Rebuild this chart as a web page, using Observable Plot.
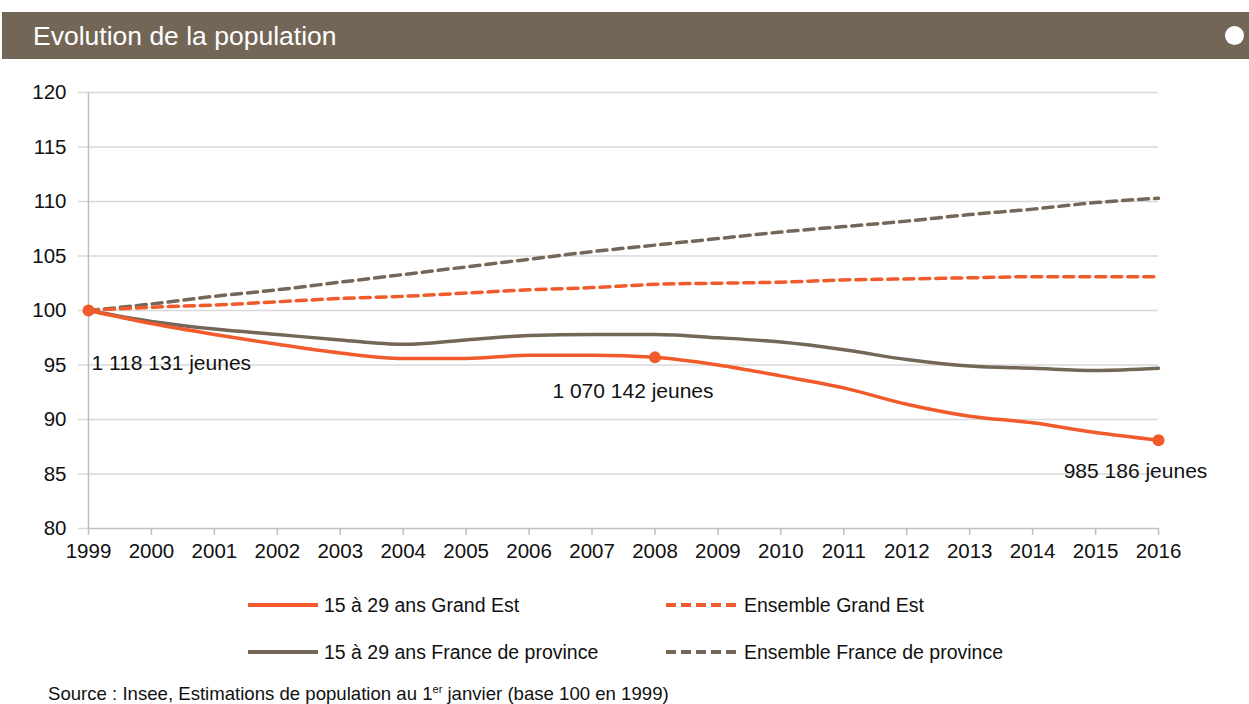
<!DOCTYPE html>
<html>
<head>
<meta charset="utf-8">
<script src="https://cdn.jsdelivr.net/npm/d3@7"></script>
<script src="https://cdn.jsdelivr.net/npm/@observablehq/plot@0.6"></script>
<style>
  html, body { margin: 0; padding: 0; background: #fff; }
  body { width: 1249px; height: 704px; position: relative; overflow: hidden; font-family: "Liberation Sans", Arial, sans-serif; }
  #header { position: absolute; left: 2px; top: 12px; width: 1247px; height: 47px; background: #736657; }
  #header .title { position: absolute; left: 31px; top: 8px; color: #fff; font-size: 26.5px; line-height: 32px; }
  #header .dot { position: absolute; left: 1223px; top: 14px; width: 19px; height: 19px; border-radius: 50%; background: #fff; }
  #chart { position: absolute; left: 0; top: 60px; }
  .leg { position: absolute; display: flex; align-items: center; font-size: 19.5px; color: #111; white-space: nowrap; }
  .leg svg { margin-right: 6px; }
  #source { position: absolute; left: 48px; top: 683px; font-size: 18.6px; line-height: 22px; color: #111; }
  #source sup { font-size: 11px; line-height: 0; }
</style>
</head>
<body>
<div id="header"><div class="title">Evolution de la population</div><div class="dot"></div></div>
<div id="chart"></div>
<div id="legend"></div>
<div id="source">Source : Insee, Estimations de population au 1<sup>er</sup> janvier (base 100 en 1999)</div>
<script>
const years = [1999,2000,2001,2002,2003,2004,2005,2006,2007,2008,2009,2010,2011,2012,2013,2014,2015,2016];
const jeunesGrandEst    = [100,98.8,97.8,96.9,96.1,95.6,95.6,95.9,95.9,95.7,95.0,94.0,92.9,91.4,90.3,89.7,88.8,88.1];
const jeunesProvince    = [100,99.0,98.3,97.8,97.3,96.9,97.3,97.7,97.8,97.8,97.5,97.1,96.4,95.5,94.9,94.7,94.5,94.7];
const ensembleGrandEst  = [100,100.3,100.5,100.8,101.1,101.3,101.6,101.9,102.1,102.4,102.5,102.6,102.8,102.9,103.0,103.1,103.1,103.1];
const ensembleProvince  = [100,100.6,101.3,101.9,102.6,103.3,104.0,104.7,105.4,106.0,106.6,107.2,107.7,108.2,108.8,109.3,109.9,110.3];
const seriesNames = ["15 à 29 ans Grand Est","Ensemble Grand Est","15 à 29 ans France de province","Ensemble France de province"];
const yTicks = [80,85,90,95,100,105,110,115,120];
const annotations = [
  {year: 1999, text: "1 118 131 jeunes"},
  {year: 2008, text: "1 070 142 jeunes"},
  {year: 2016, text: "985 186 jeunes"}
];

const ORANGE = "#F15A2B", BROWN = "#756757", GRID = "#d9d9d9", AXIS = "#bfbfbf";
const styles = {
  "15 à 29 ans Grand Est": {stroke: ORANGE, dash: null},
  "Ensemble Grand Est": {stroke: ORANGE, dash: "10,6"},
  "15 à 29 ans France de province": {stroke: BROWN, dash: null},
  "Ensemble France de province": {stroke: BROWN, dash: "10,6"}
};
const valuesBySeries = {
  "15 à 29 ans Grand Est": jeunesGrandEst,
  "Ensemble Grand Est": ensembleGrandEst,
  "15 à 29 ans France de province": jeunesProvince,
  "Ensemble France de province": ensembleProvince
};
const table = seriesNames.map(s => years.map((y, i) => ({series: s, year: y, value: valuesBySeries[s][i]})));
const annData = annotations.map(a => ({...a, value: jeunesGrandEst[years.indexOf(a.year)]}));
const annOffsets = [{dx: 3, dy: 53, anchor: "start"}, {dx: -22, dy: 34, anchor: "middle"}, {dx: -23, dy: 31, anchor: "middle"}];

const drawOrder = ["Ensemble France de province","Ensemble Grand Est","15 à 29 ans France de province","15 à 29 ans Grand Est"];
const lineMarks = drawOrder.map(s => Plot.line(table[seriesNames.indexOf(s)], {
  x: "year", y: "value", stroke: styles[s].stroke, strokeWidth: 3.5,
  strokeDasharray: styles[s].dash || undefined, curve: "monotone-x"
}));

const chart = Plot.plot({
  width: 1249, height: 520,
  marginTop: 32, marginBottom: 52, marginLeft: 88, marginRight: 91,
  style: {fontFamily: "'Liberation Sans', Arial, sans-serif", fontSize: "20px", color: "#111", background: "transparent"},
  x: {domain: [1999, 2016], ticks: years, tickFormat: d => String(d)},
  y: {domain: [80, 120], ticks: yTicks},
  marks: [
    Plot.ruleY(yTicks.filter(t => t > 80), {stroke: GRID, strokeWidth: 1.5}),
    Plot.axisY({ticks: yTicks, tickSize: 10, tickPadding: 12, stroke: GRID, strokeWidth: 1.5, label: null, fontSize: 20.5}),
    Plot.axisX({ticks: years, tickSize: 7, tickPadding: 8, stroke: AXIS, strokeWidth: 1.5, label: null, fontSize: 20.5, tickFormat: d => String(d)}),
    Plot.ruleY([80], {stroke: AXIS, strokeWidth: 1.5}),
    Plot.ruleX([1999], {stroke: AXIS, strokeWidth: 1.5}),
    ...lineMarks,
    Plot.dot(annData, {x: "year", y: "value", r: 6, fill: ORANGE, stroke: "none"}),
    ...annData.map((a, i) => Plot.text([a], {x: "year", y: "value", text: "text", dx: annOffsets[i].dx, dy: annOffsets[i].dy, textAnchor: annOffsets[i].anchor, fontSize: 21, fill: "#111"}))
  ]
});
document.getElementById("chart").appendChild(chart);

// Legend
const legPos = [
  {s: "15 à 29 ans Grand Est", left: 248, top: 605},
  {s: "Ensemble Grand Est", left: 666, top: 605},
  {s: "15 à 29 ans France de province", left: 248, top: 652},
  {s: "Ensemble France de province", left: 666, top: 652}
];
const legend = document.getElementById("legend");
legPos.forEach(p => {
  const st = styles[p.s];
  const d = document.createElement("div");
  d.className = "leg";
  d.style.left = p.left + "px";
  d.style.top = (p.top - 12) + "px";
  d.style.height = "24px";
  const w = st.dash ? 72 : 70;
  d.innerHTML = `<svg width="${w}" height="8"><line x1="0" x2="${w}" y1="4" y2="4" stroke="${st.stroke}" stroke-width="4" ${st.dash ? 'stroke-dasharray="10,5"' : ''}/></svg><span>${p.s}</span>`;
  legend.appendChild(d);
});
</script>
</body>
</html>
